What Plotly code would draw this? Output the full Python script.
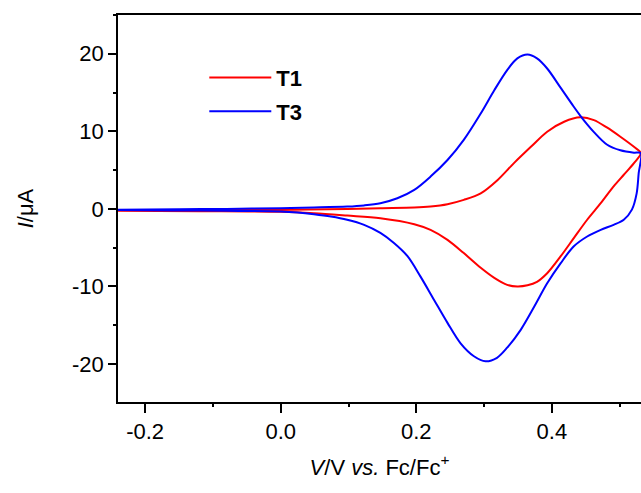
import plotly.graph_objects as go

# T3 (blue) forward scan
t3_fwd_x = [-0.24, -0.15, -0.08, 0.0, 0.049, 0.098, 0.123, 0.147, 0.172, 0.197, 0.221, 0.246, 0.270, 0.295,
            0.315, 0.334, 0.349, 0.364, 0.378, 0.393, 0.413, 0.432, 0.442, 0.452, 0.462, 0.481, 0.501, 0.521, 0.531]
t3_fwd_y = [-0.1, -0.05, 0.0, 0.09, 0.18, 0.3, 0.45, 0.73, 1.37, 2.45, 4.16, 6.3, 8.9, 12.3,
            15.3, 17.9, 19.4, 19.9, 19.4, 18.1, 15.6, 13.2, 12.0, 10.9, 9.9, 8.3, 7.55, 7.25, 7.2]
# T3 (blue) reverse scan
t3_rev_x = [0.531, 0.528, 0.525, 0.518, 0.506, 0.491, 0.472, 0.452, 0.432, 0.413, 0.393, 0.374, 0.354,
            0.334, 0.319, 0.302, 0.285, 0.265, 0.246, 0.226, 0.206, 0.187, 0.167, 0.147, 0.123, 0.098,
            0.074, 0.049, 0.025, 0.0, -0.08, -0.16, -0.24]
t3_rev_y = [7.2, 4.6, 2.0, -0.1, -1.4, -2.06, -2.7, -3.56, -4.85, -7.0, -9.6, -12.6, -15.6,
            -17.9, -19.2, -19.65, -19.0, -17.3, -14.7, -11.7, -8.7, -6.1, -4.4, -3.1, -2.06, -1.4,
            -0.99, -0.69, -0.47, -0.34, -0.25, -0.2, -0.15]

# T1 (red) forward scan
t1_fwd_x = [-0.24, -0.12, 0.0, 0.098, 0.147, 0.197, 0.221, 0.246, 0.270, 0.295, 0.320, 0.344, 0.369,
            0.393, 0.418, 0.442, 0.462, 0.481, 0.501, 0.521, 0.531]
t1_fwd_y = [-0.2, -0.17, -0.13, 0.0, 0.09, 0.17, 0.3, 0.6, 1.16, 2.0, 3.73, 5.9, 8.0,
            9.95, 11.24, 11.8, 11.45, 10.5, 9.3, 8.0, 7.2]
# T1 (red) reverse scan
t1_rev_x = [0.531, 0.521, 0.506, 0.491, 0.472, 0.452, 0.432, 0.413, 0.393, 0.378, 0.364, 0.349, 0.334,
            0.315, 0.295, 0.270, 0.246, 0.221, 0.197, 0.147, 0.098, 0.049, 0.0, -0.12, -0.24]
t1_rev_y = [7.2, 5.9, 4.4, 2.9, 0.73, -1.4, -3.8, -6.1, -8.3, -9.4, -9.85, -10.0, -9.8,
            -8.9, -7.6, -5.7, -3.99, -2.7, -1.97, -1.2, -0.86, -0.56, -0.38, -0.3, -0.25]

x_ticks = [-0.2, 0.0, 0.2, 0.4]
x_tick_labels = ["-0.2", "0.0", "0.2", "0.4"]
y_ticks = [-20, -10, 0, 10, 20]
y_tick_labels = ["-20", "-10", "0", "10", "20"]

FONT = "Liberation Sans, Arial, sans-serif"

fig = go.Figure()
fig.add_trace(go.Scatter(x=t1_fwd_x + t1_rev_x[1:], y=t1_fwd_y + t1_rev_y[1:], mode="lines",
                         name="<b>T1</b>", legendgroup="t1",
                         line=dict(color="#FF0000", width=2, shape="spline", smoothing=0.9)))
fig.add_trace(go.Scatter(x=t3_fwd_x + t3_rev_x[1:], y=t3_fwd_y + t3_rev_y[1:], mode="lines",
                         name="<b>T3</b>", legendgroup="t3",
                         line=dict(color="#0000FF", width=2, shape="spline", smoothing=0.9)))

fig.update_layout(
    width=641, height=493,
    margin=dict(l=118, r=0, t=15, b=91, autoexpand=False),
    paper_bgcolor="white", plot_bgcolor="white",
    font=dict(family=FONT, size=22, color="black"),
    showlegend=True,
    legend=dict(x=0.165, y=0.892, xanchor="left", yanchor="top",
                bgcolor="rgba(0,0,0,0)", font=dict(family=FONT, size=22, color="black"),
                itemwidth=62, tracegroupgap=2),
    xaxis=dict(range=[-0.24, 0.5314], tickmode="array", tickvals=x_ticks, ticktext=x_tick_labels,
               showgrid=False, zeroline=False, showline=True, linecolor="black", linewidth=1.5,
               mirror=True, ticks="outside", ticklen=9, tickwidth=1.5, tickcolor="black",
               automargin=False, tickfont=dict(size=22),
               minor=dict(dtick=0.1, tick0=0, ticks="outside", ticklen=3, tickwidth=1.5, tickcolor="black"),
               title=dict(text="<i>V</i>/V <i>vs.</i> Fc/Fc<sup>+</sup>", font=dict(size=22), standoff=16)),
    yaxis=dict(range=[-24.9, 25], tickmode="array", tickvals=y_ticks, ticktext=y_tick_labels,
               showgrid=False, zeroline=False, showline=True, linecolor="black", linewidth=1.5,
               ticks="outside", ticklen=8, tickwidth=1.5, tickcolor="black",
               automargin=False, tickfont=dict(size=22),
               minor=dict(dtick=5, tick0=0, ticks="outside", ticklen=3, tickwidth=1.5, tickcolor="black"),
               title=dict(text="<i>I</i>/μA", font=dict(size=22), standoff=32)),
)

fig.write_html("out.html", config={"displayModeBar": False},
               post_script="document.body.style.margin='0';document.body.style.overflow='hidden';")
